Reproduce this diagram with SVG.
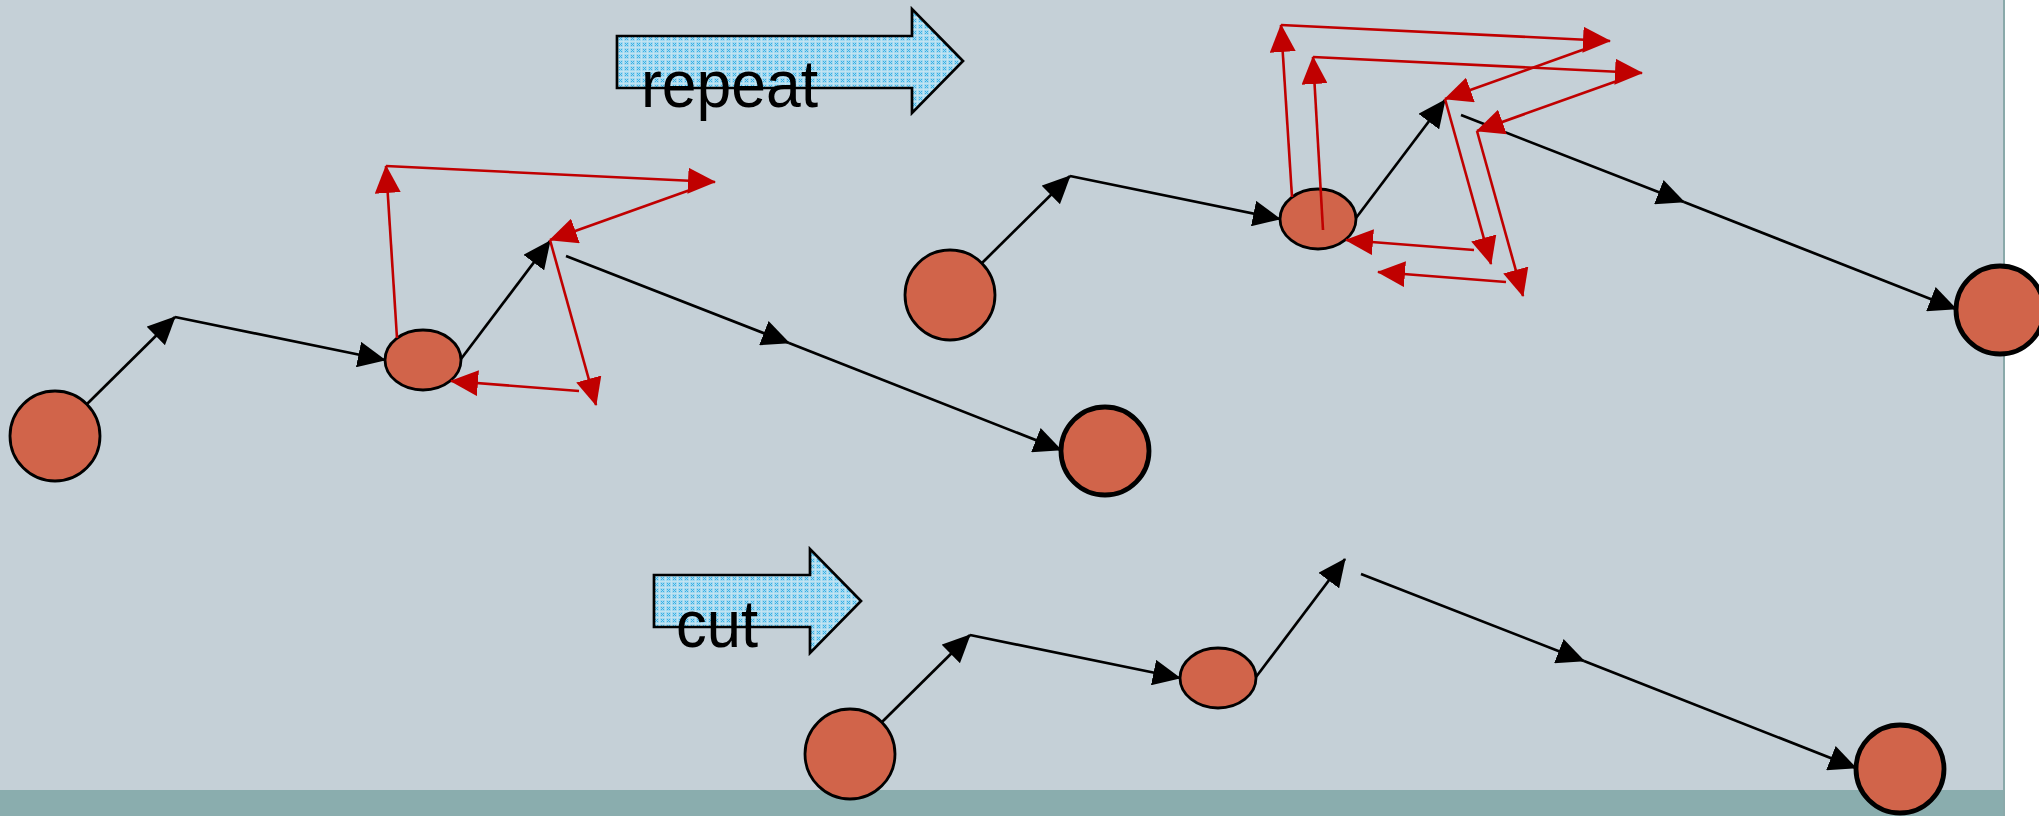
<svg xmlns="http://www.w3.org/2000/svg" width="2039" height="816" viewBox="0 0 2039 816">
<style>
.node{fill:#D1644A;stroke:#000;stroke-width:2.8}
.end{stroke-width:4.8}
.blk{fill:none;stroke:#000;stroke-width:2.7;marker-end:url(#ah)}
.red{fill:none;stroke:#C00000;stroke-width:2.6;marker-end:url(#rh)}
.barrow{fill:url(#dots);stroke:#000;stroke-width:2.7}
.lbl{font-family:"Liberation Sans",Arial,sans-serif;font-size:66px;fill:#000}
</style>
<defs>
<marker id="ah" viewBox="0 0 28 26" refX="27" refY="13" markerWidth="28" markerHeight="26" markerUnits="userSpaceOnUse" orient="auto"><path d="M0,0 L28,13 L0,26 z" fill="#000"/></marker>
<marker id="rh" viewBox="0 0 28 26" refX="27" refY="13" markerWidth="28" markerHeight="26" markerUnits="userSpaceOnUse" orient="auto"><path d="M0,0 L28,13 L0,26 z" fill="#C00000"/></marker>
<pattern id="dots" width="6" height="6" patternUnits="userSpaceOnUse">
<rect width="6" height="6" fill="#A4D8EF"/>
<path d="M1,1 L4,4 M4,1 L1,4" stroke="#35B1E7" stroke-width="1"/>
<path d="M0,5.5 H6 M5.5,0 V6" stroke="#C8E6F2" stroke-width="0.8"/>
</pattern>
</defs>
<rect x="0" y="0" width="2039" height="816" fill="#FFFFFF"/>
<rect x="0" y="0" width="2003" height="816" fill="#C5D0D7"/>
<rect x="0" y="790" width="2003" height="26" fill="#8AADAE"/>
<line x1="2004" y1="0" x2="2004" y2="816" stroke="#8AA9AA" stroke-width="2"/>

<g id="repeat-arrow">
<polygon class="barrow" points="617,36 912,36 912,9 963,61 912,113 912,88 617,88"/>
<text class="lbl" x="641" y="107" textLength="177" lengthAdjust="spacingAndGlyphs">repeat</text>
</g>
<g id="cut-arrow">
<polygon class="barrow" points="654,575 810,575 810,549 861,601 810,653 810,627 654,627"/>
<text class="lbl" x="676" y="647" textLength="82" lengthAdjust="spacingAndGlyphs">cut</text>
</g>

<g id="node-a"><circle class="node" cx="55" cy="436" r="45"/></g>
<g id="node-b"><ellipse class="node" cx="423" cy="360" rx="38" ry="30"/></g>
<g id="node-c"><circle class="node end" cx="1105" cy="451" r="44"/></g>
<g id="node-d"><circle class="node" cx="950" cy="295" r="45"/></g>
<g id="node-e"><ellipse class="node" cx="1318" cy="219" rx="38" ry="30"/></g>
<g id="node-f"><circle class="node end" cx="2000" cy="310" r="44"/></g>
<g id="node-g"><circle class="node" cx="850" cy="754" r="45"/></g>
<g id="node-h"><ellipse class="node" cx="1218" cy="678" rx="38" ry="30"/></g>
<g id="node-i"><circle class="node end" cx="1900" cy="769" r="44"/></g>

<g id="connectors">
<line class="blk" x1="87" y1="404" x2="175" y2="317"/>
<line class="blk" x1="175" y1="317" x2="385" y2="360"/>
<line class="blk" x1="461" y1="359" x2="550" y2="241"/>
<line class="blk" x1="566" y1="256" x2="789" y2="343"/>
<line class="blk" x1="789" y1="343" x2="1061" y2="450"/>

<line class="red" x1="397" y1="338" x2="386" y2="166"/>
<line class="red" x1="386" y1="166" x2="715" y2="182"/>
<line class="red" x1="690" y1="190" x2="550" y2="240"/>
<line class="red" x1="550" y1="240" x2="596" y2="405"/>
<line class="red" x1="579" y1="391" x2="451" y2="381"/>

<line class="blk" x1="982" y1="263" x2="1070" y2="176"/>
<line class="blk" x1="1070" y1="176" x2="1280" y2="219"/>
<line class="blk" x1="1356" y1="218" x2="1445" y2="100"/>
<line class="blk" x1="1461" y1="115" x2="1684" y2="202"/>
<line class="blk" x1="1684" y1="202" x2="1956" y2="309"/>

<line class="red" x1="1292" y1="197" x2="1281" y2="25"/>
<line class="red" x1="1281" y1="25" x2="1610" y2="41"/>
<line class="red" x1="1585" y1="49" x2="1445" y2="99"/>
<line class="red" x1="1445" y1="99" x2="1491" y2="264"/>
<line class="red" x1="1474" y1="250" x2="1346" y2="240"/>

<line class="red" x1="1323" y1="230" x2="1313" y2="57"/>
<line class="red" x1="1313" y1="57" x2="1642" y2="73"/>
<line class="red" x1="1617" y1="81" x2="1477" y2="131"/>
<line class="red" x1="1477" y1="131" x2="1523" y2="296"/>
<line class="red" x1="1506" y1="282" x2="1378" y2="272"/>

<line class="blk" x1="882" y1="722" x2="970" y2="635"/>
<line class="blk" x1="970" y1="635" x2="1180" y2="678"/>
<line class="blk" x1="1256" y1="677" x2="1345" y2="559"/>
<line class="blk" x1="1361" y1="574" x2="1584" y2="661"/>
<line class="blk" x1="1584" y1="661" x2="1856" y2="768"/>
</g>
</svg>
